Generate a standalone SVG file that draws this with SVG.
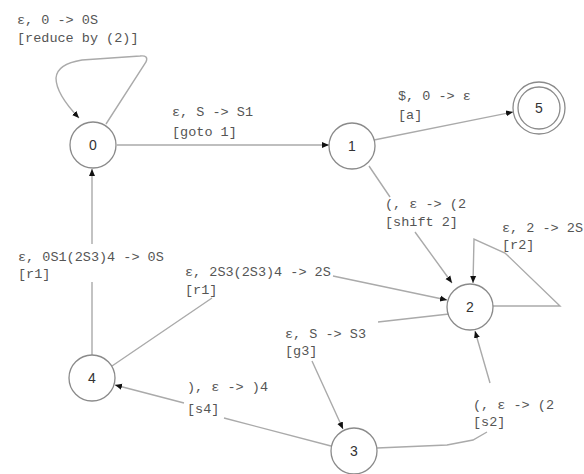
<svg xmlns="http://www.w3.org/2000/svg" width="584" height="474" viewBox="0 0 584 474">
<style>
.node circle{fill:#fff;stroke:#8a8a8a;stroke-width:1.3}
.node text{font-family:"Liberation Sans",Arial,sans-serif;font-size:14px;fill:#333;text-anchor:middle}
.edge{fill:none;stroke:#aaa;stroke-width:1.4;marker-end:url(#arr)}
.lbl{font-family:"Liberation Mono","DejaVu Sans Mono",monospace;font-size:13.5px;fill:#555}
</style>
<defs>
<marker id="arr" markerUnits="userSpaceOnUse" markerWidth="8" markerHeight="8" refX="7" refY="4" orient="auto">
<path d="M0,1 L7,4 L0,7 z" fill="#111"/>
</marker>
</defs>
<rect width="584" height="474" fill="#fff"/>
<g id="connectors">
<path class="edge" d="M106,124 L146,62 Q149,55 140,56 L82,60 Q57,64 56,78 Q56,94 79,118"/>
<path class="edge" d="M117,145 L329,145"/>
<path class="edge" d="M374,140 L513,112"/>
<path class="edge" d="M369,166 L390,197 M415,232 L452,283"/>
<path class="edge" d="M493,306 L560,306 L505,253 L474,239 L473,283"/>
<path class="edge" d="M92,355 L92,282 M92,244 L92,169"/>
<path class="edge" d="M112,366 L212,298 M333,276 L447,300"/>
<path class="edge" d="M449,314 L378,322 M312,361 L343,429"/>
<path class="edge" d="M331,446 L224,418 M184,403 L115,385"/>
<path class="edge" d="M377,448 L447,445 L473,440 L487,432 M490,383 L475,331"/>
</g>
<g id="labels">
<text class="lbl" x="17" y="24">ε, 0 -&gt; 0S</text>
<text class="lbl" x="17" y="42">[reduce by (2)]</text>
<text class="lbl" x="172" y="116">ε, S -&gt; S1</text>
<text class="lbl" x="172" y="136">[goto 1]</text>
<text class="lbl" x="398" y="100">$, 0 -&gt; ε</text>
<text class="lbl" x="398" y="119">[a]</text>
<text class="lbl" x="385" y="208">(, ε -&gt; (2</text>
<text class="lbl" x="385" y="226">[shift 2]</text>
<text class="lbl" x="502" y="232">ε, 2 -&gt; 2S</text>
<text class="lbl" x="502" y="249">[r2]</text>
<text class="lbl" x="18" y="261">ε, 0S1(2S3)4 -&gt; 0S</text>
<text class="lbl" x="18" y="278">[r1]</text>
<text class="lbl" x="185" y="276">ε, 2S3(2S3)4 -&gt; 2S</text>
<text class="lbl" x="185" y="294">[r1]</text>
<text class="lbl" x="285" y="338">ε, S -&gt; S3</text>
<text class="lbl" x="285" y="355">[g3]</text>
<text class="lbl" x="187" y="391">), ε -&gt; )4</text>
<text class="lbl" x="187" y="413">[s4]</text>
<text class="lbl" x="473" y="409">(, ε -&gt; (2</text>
<text class="lbl" x="473" y="426">[s2]</text>
</g>
<g id="node0" class="node"><circle cx="93" cy="145" r="23"/><text x="93" y="150">0</text></g>
<g id="node1" class="node"><circle cx="352" cy="146" r="23"/><text x="352" y="151">1</text></g>
<g id="node5" class="node"><circle cx="539" cy="108" r="26"/><circle cx="539" cy="108" r="21"/><text x="539" y="113">5</text></g>
<g id="node2" class="node"><circle cx="470" cy="307" r="23"/><text x="470" y="312">2</text></g>
<g id="node4" class="node"><circle cx="92" cy="378" r="23"/><text x="92" y="383">4</text></g>
<g id="node3" class="node"><circle cx="354" cy="451" r="23"/><text x="354" y="456">3</text></g>
</svg>
